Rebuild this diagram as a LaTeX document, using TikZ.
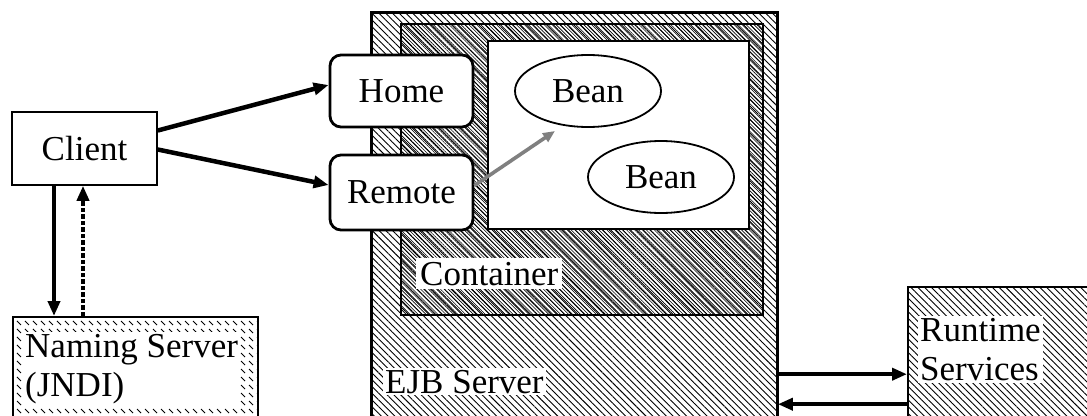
\documentclass[tikz,border=0pt]{standalone}
\usepackage{fontspec}
\setmainfont{Liberation Serif}
\usetikzlibrary{arrows.meta,patterns.meta,shapes.geometric,calc}

% short diagonal ticks used for the naming server frame
\tikzdeclarepattern{
  name=nameticks,
  type=uncolored,
  bottom left={(-1pt,-1pt)},
  top right={(9pt,9pt)},
  tile size={(8pt,8pt)},
  code={\draw[line width=1pt] (1pt,6pt) -- (5pt,2pt);}
}

\tikzset{
  lbl/.style={font=\fontsize{35}{39}\selectfont},
  plainbox/.style={draw, line width=1.6pt, fill=white, inner sep=0pt},
  iface/.style={draw, line width=2.8pt, rounded corners=11pt, fill=white, inner sep=0pt},
  bean/.style={ellipse, draw, line width=1.8pt, fill=white, inner sep=0pt},
  coarsehatch/.style={pattern={Lines[angle=-45,distance=4.8pt,line width=0.9pt]}},
  finehatch/.style={pattern={Lines[angle=-45,distance=2.8pt,line width=0.6pt]}},
  tag/.style={lbl, fill=white, inner sep=2pt, align=left},
  arr/.style={line width=4.5pt, -{Triangle[length=15pt,width=12pt]}},
  weakarr/.style={draw=black!50, line width=3.6pt, -{Triangle[length=12pt,width=10pt]}}
}

\begin{document}
\begin{tikzpicture}[x=1pt,y=-1pt]
\clip (0,0) rectangle (1087,415);
\fill[white] (0,0) rectangle (1087,415);

% EJB server with its container and bean area
\node[draw, line width=2.4pt, coarsehatch, minimum width=406pt, minimum height=420pt, inner sep=0pt, anchor=north west] (ejb) at (371,12) {};
\node[draw, line width=2pt, finehatch, minimum width=362pt, minimum height=291pt, inner sep=0pt, anchor=north west] (cont) at (401,24) {};
\node[draw, line width=2pt, fill=white, minimum width=261pt, minimum height=188pt, inner sep=0pt, anchor=north west] (beanarea) at (487,40) {};

\node[tag, inner sep=4pt, anchor=base west] (contlbl) at (416,285) {Container};
\node[tag, anchor=base west] (ejblbl) at (383,393) {EJB Server};

% interfaces
\node[iface, lbl, minimum width=143pt, minimum height=72pt] (home) at (401.5,91) {Home};
\node[iface, lbl, minimum width=143pt, minimum height=75pt] (remote) at (401.5,192.5) {Remote};

% beans
\node[bean, lbl, minimum width=146pt, minimum height=72pt] (bean1) at (588,91) {Bean};
\node[bean, lbl, minimum width=146pt, minimum height=72pt] (bean2) at (661,177) {Bean};

% client and naming server
\node[plainbox, lbl, minimum width=145pt, minimum height=73pt] (client) at (84.5,148.5) {Client};
\node[draw, line width=1.8pt, pattern=nameticks, minimum width=245pt, minimum height=110pt, inner sep=0pt, anchor=north west] (naming) at (12,316) {};
\node[tag, anchor=north west] (naminglbl) at (23,332) {Naming Server\\(JNDI)};

% runtime services
\node[draw, line width=2.4pt, coarsehatch, minimum width=200pt, minimum height=140pt, inner sep=0pt, anchor=north west] (runtime) at (907,286) {};
\node[tag, anchor=north west] (rtlbl) at (918,316) {Runtime\\Services};

% connectors
\draw[arr] ([yshift=18pt]client.east) -- ([yshift=6pt]home.west);
\draw[arr] ([yshift=-1pt]client.east) -- ([yshift=7.5pt]remote.west);
\draw[weakarr] ([yshift=7pt]remote.east) -- ([xshift=-33pt,yshift=-40pt]bean1.center);

\coordinate (down) at ([xshift=-30.5pt]client.south);
\coordinate (up) at ([xshift=-1.5pt]client.south);
\draw[arr] (down) -- (down |- naming.north);
\draw[arr, dotted, line width=3.6pt] (up |- naming.north) -- (up);

\coordinate (rs1) at ([yshift=-17pt]runtime.west);
\coordinate (rs2) at ([yshift=-47pt]runtime.west);
\draw[arr, line width=4pt] (rs1 -| ejb.east) -- (rs1);
\draw[arr, line width=4pt] (rs2) -- (rs2 -| ejb.east);
\end{tikzpicture}
\end{document}
